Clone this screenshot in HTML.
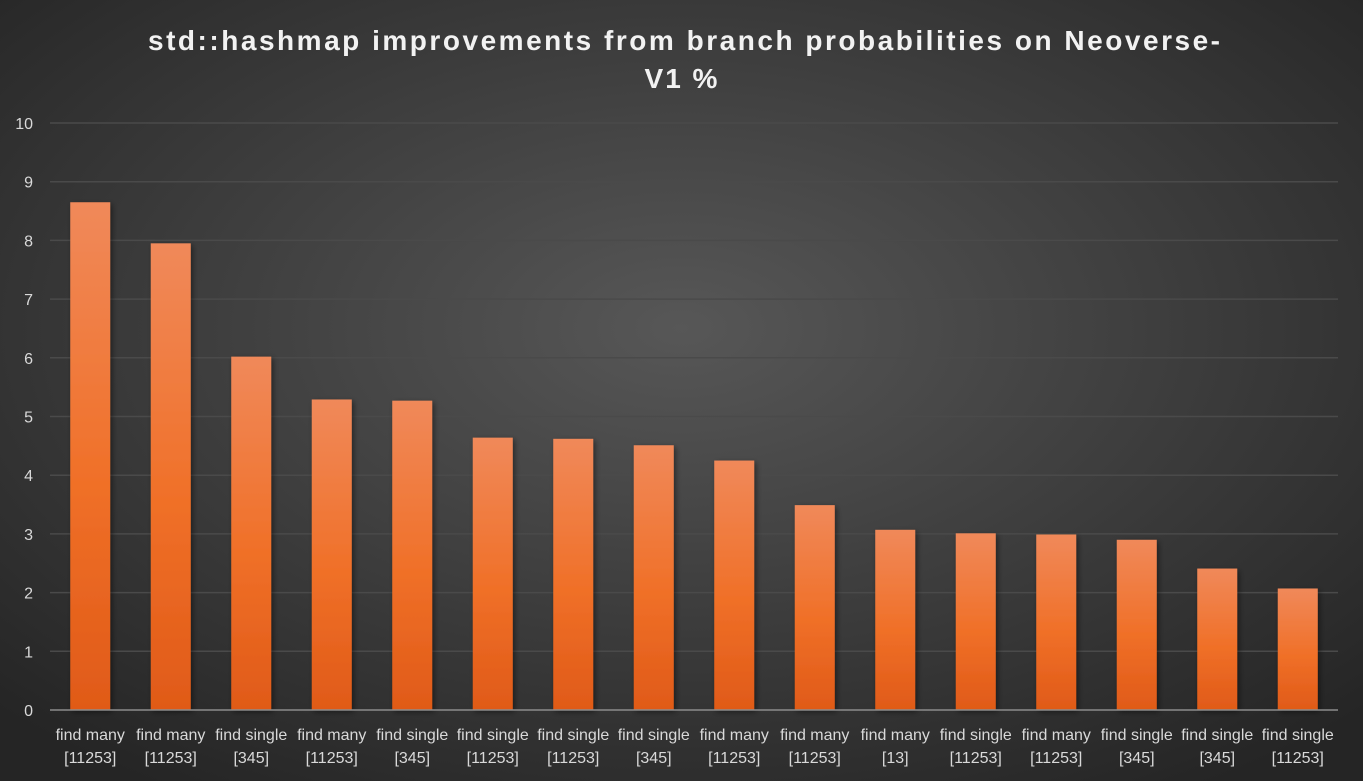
<!DOCTYPE html>
<html><head><meta charset="utf-8"><style>
html,body{margin:0;padding:0;}
body{width:1363px;height:781px;overflow:hidden;background:#333;}
svg{display:block;}
</style></head><body>
<svg width="1363" height="781" xmlns="http://www.w3.org/2000/svg" font-family="Liberation Sans, sans-serif">
<defs>
<radialGradient id="bg" cx="50%" cy="42%" r="70%">
<stop offset="0" stop-color="#575757"/><stop offset="1" stop-color="#252525"/>
</radialGradient>
<linearGradient id="bar" x1="0" y1="0" x2="0" y2="1">
<stop offset="0" stop-color="#f0895a"/><stop offset="0.55" stop-color="#f07028"/><stop offset="1" stop-color="#e05a18"/>
</linearGradient>
<filter id="sh" x="-30%" y="-10%" width="160%" height="120%"><feDropShadow dx="2" dy="2" stdDeviation="3" flood-color="#000" flood-opacity="0.45"/></filter>
</defs>
<rect width="1363" height="781" fill="url(#bg)"/>
<text x="148" y="50" textLength="1072" lengthAdjust="spacing" font-size="28" font-weight="bold" fill="#f2f2f2">std::hashmap improvements from branch probabilities on Neoverse-</text>
<text x="682" y="88" text-anchor="middle" font-size="28" font-weight="bold" fill="#f2f2f2" letter-spacing="2">V1 %</text>
<g id="grid" stroke="#4a4a4a" stroke-width="1.5"></g>
<g id="ylab" font-size="16" fill="#d9d9d9" text-anchor="end"></g>
<g id="bars" filter="url(#sh)"></g>
<line x1="50" y1="710" x2="1338" y2="710" stroke="#8c8c8c" stroke-width="1.5"/>
<g id="xlab" font-size="16" fill="#d9d9d9" text-anchor="middle"></g>
</svg>
<script>
var ns="http://www.w3.org/2000/svg";
function el(t,a,p,txt){var e=document.createElementNS(ns,t);for(var k in a)e.setAttribute(k,a[k]);if(txt!==undefined)e.textContent=txt;document.getElementById(p).appendChild(e);}
for(var i=0;i<=10;i++){var y=710-i*58.7;if(i>0)el('line',{x1:50,x2:1338,y1:y,y2:y},'grid');el('text',{x:33,y:y+6},'ylab',String(i));}
var v=[8.65,7.95,6.02,5.29,5.27,4.64,4.62,4.51,4.25,3.49,3.07,3.01,2.99,2.90,2.41,2.07];
var l1=["find many","find many","find single","find many","find single","find single","find single","find single","find many","find many","find many","find single","find many","find single","find single","find single"];
var l2=["[11253]","[11253]","[345]","[11253]","[345]","[11253]","[11253]","[345]","[11253]","[11253]","[13]","[11253]","[11253]","[345]","[345]","[11253]"];
for(var i=0;i<16;i++){var c=50+80.5*i+40.25;var h=v[i]*58.7;
el('rect',{x:c-20,y:710-h,width:40,height:h,fill:'url(#bar)'},'bars');
el('text',{x:c,y:740},'xlab',l1[i]);el('text',{x:c,y:763},'xlab',l2[i]);}
</script>
</body></html>
